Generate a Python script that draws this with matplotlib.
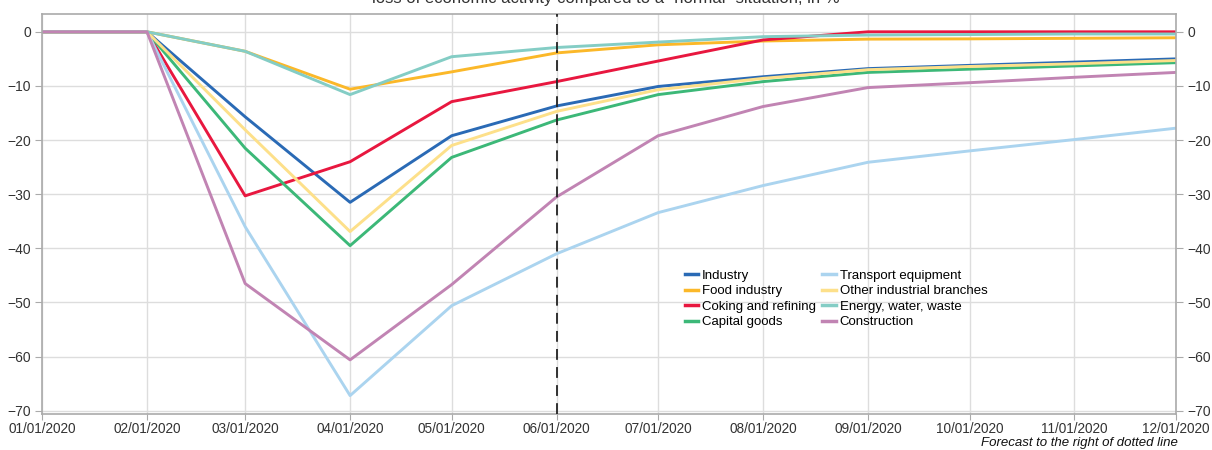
import numpy as np
import pandas as pd
import matplotlib
matplotlib.use("Agg")
import matplotlib.pyplot as plt
import matplotlib.dates as mdates
from matplotlib.ticker import FuncFormatter

# monthly points, forecast starts 06/01/2020
months = pd.date_range("2020-01-01", "2020-12-01", freq="MS")
forecast_start = pd.Timestamp("2020-06-01")

industry = [0, 0, -15.7, -31.5, -19.2, -13.7, -10.1, -8.3, -6.8, -6.2, -5.6, -5.0]
food = [0, 0, -3.6, -10.6, -7.4, -3.9, -2.4, -1.7, -1.35, -1.3, -1.2, -1.1]
coking = [0, 0, -30.3, -24.0, -12.9, -9.2, -5.4, -1.5, 0, 0, 0, 0]
capital = [0, 0, -21.5, -39.5, -23.2, -16.3, -11.6, -9.2, -7.5, -6.9, -6.3, -5.7]
transport = [0, 0, -36.0, -67.2, -50.6, -41.0, -33.4, -28.4, -24.1, -22.0, -19.9, -17.8]
other = [0, 0, -18.1, -36.9, -21.0, -14.7, -10.7, -8.6, -7.0, -6.4, -5.9, -5.3]
energy = [0, 0, -3.6, -11.6, -4.6, -2.9, -1.9, -0.9, -0.6, -0.5, -0.4, -0.4]
construction = [0, 0, -46.5, -60.6, -46.7, -30.5, -19.2, -13.8, -10.3, -9.4, -8.4, -7.5]

series = [
    ("Industry", industry, "#2a6ab5"),
    ("Food industry", food, "#fbb829"),
    ("Coking and refining", coking, "#e8173f"),
    ("Capital goods", capital, "#3cb878"),
    ("Transport equipment", transport, "#abd4ef"),
    ("Other industrial branches", other, "#fde08a"),
    ("Energy, water, waste", energy, "#84cdc5"),
    ("Construction", construction, "#c184b3"),
]

narrow = ["Liberation Sans Narrow", "Liberation Sans", "DejaVu Sans"]

fig = plt.figure(figsize=(12.12, 4.5), dpi=100)
ax = fig.add_axes([0.0347, 0.08, 0.9356, 0.889])

for name, vals, col in series:
    ax.plot(months, vals, color=col, lw=2.1, label=name)

ax.axvline(forecast_start, color="#222222", lw=1.3, ls=(0, (6, 4)), zorder=5)

ax.set_xlim(months[0], months[-1])
ax.set_ylim(-70.6, 3.3)
ax.set_yticks(np.arange(-70, 1, 10))
ax.xaxis.set_major_locator(mdates.MonthLocator())
ax.xaxis.set_major_formatter(mdates.DateFormatter("%m/%d/%Y"))
ax.yaxis.set_major_formatter(FuncFormatter(lambda v, p: f"{v:.0f}".replace("-", "\u2212")))

ax.grid(True, color="#dddddd", lw=1.0)
ax.set_axisbelow(True)
ax.tick_params(axis="y", which="both", left=True, right=True, labelleft=True,
               labelright=True, length=5, color="#aaaaaa", labelsize=10,
               labelcolor="#333333", pad=3)
ax.tick_params(axis="x", length=4, color="#aaaaaa", labelsize=9.8,
               labelcolor="#333333", pad=2)
for lab in ax.get_xticklabels() + ax.get_yticklabels():
    lab.set_family(narrow)
for side in ("left", "right", "top", "bottom"):
    ax.spines[side].set_color("#aaaaaa")
    ax.spines[side].set_linewidth(1.2)

leg = ax.legend(loc="upper left", bbox_to_anchor=(0.562, 0.374), ncol=2, frameon=False,
                handlelength=1.05, handletextpad=0.25, labelspacing=0.25,
                columnspacing=0.5, borderaxespad=0,
                prop={"family": ["Liberation Sans", "DejaVu Sans"], "size": 9.5})
for h in leg.get_lines():
    h.set_linewidth(2.5)

fig.text(0.5, 1 - 2.5 / 450, "loss of economic activity compared to a \u201cnormal\u201d situation, in %",
         ha="center", va="baseline", fontsize=12, color="#333333", family=narrow)
fig.text(1178 / 1212, 1 - 443 / 450, "Forecast to the right of dotted line", ha="right",
         va="center", fontsize=9.5, style="italic", color="#111111", family=narrow)

fig.savefig("out.png", dpi=100)
